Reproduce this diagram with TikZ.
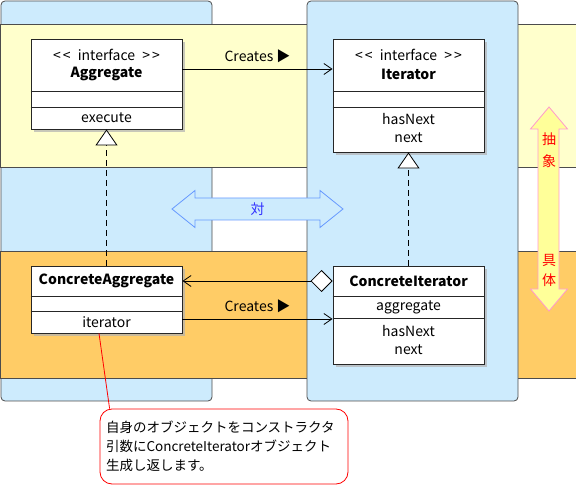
\documentclass[tikz,border=0pt]{standalone}
\usepackage{fontspec}
\setmainfont{Noto Sans CJK JP}
\usepackage{tikz}
\usetikzlibrary{arrows.meta,calc,shadows,positioning}

\definecolor{colblue}{RGB}{205,235,253}
\definecolor{bandyellow}{RGB}{255,255,204}
\definecolor{bandorange}{RGB}{255,204,102}
\definecolor{pairblue}{RGB}{102,153,255}
\definecolor{pairtext}{RGB}{51,51,255}
\definecolor{levelfill}{RGB}{255,255,153}
\definecolor{levelpink}{RGB}{255,153,204}

\newcommand{\stereo}{<\kern2pt<\hspace{4pt} interface \hspace{4pt}>\kern2pt>}

\tikzset{
    umlbox/.style={draw=black!85, fill=white, line width=0.9pt, minimum width=151pt, inner sep=0pt,
        drop shadow={shadow xshift=3pt, shadow yshift=-3pt, fill=black!30, opacity=0.7}},
    umltext/.style={font=\fontsize{14}{16}\selectfont, inner sep=0pt},
    umlname/.style={umltext, font=\fontsize{14}{16}\selectfont\bfseries},
    opentip/.style={-{Straight Barb[length=8pt,width=11pt]}},
    realize/.style={dash pattern=on 6pt off 4pt, line width=0.8pt, -{Triangle[open,fill=white,length=16pt,width=22pt]}},
}

\begin{document}
\begin{tikzpicture}[x=1pt,y=-1pt]

\useasboundingbox (0,0) rectangle (576,486);

\filldraw[fill=colblue, draw=black!70, line width=0.8pt, rounded corners=4pt] (1,1) rectangle (212,401);
\filldraw[fill=bandyellow, draw=black!70, line width=0.8pt] (0,24) rectangle (576,167);
\filldraw[fill=bandorange, draw=black!70, line width=0.8pt] (0,251) rectangle (576,378);
\filldraw[fill=colblue, draw=black!70, line width=0.8pt, rounded corners=4pt] (307,1) rectangle (518,401);

\node[umlbox, minimum height=90pt] (agg) at (106.5,84) {};
\node[umlbox, minimum height=113pt] (itr) at (408.5,95.5) {};
\node[umlbox, minimum height=67pt] (cagg) at (106.5,299.5) {};
\node[umlbox, minimum height=98pt] (citr) at (408.5,315) {};

\foreach \b/\y in {agg/91, agg/107, itr/91, itr/107, cagg/296, cagg/311, citr/296, citr/318}
{
    \draw[black!85, line width=0.9pt] (\b.west |- 0,\y) -- (\b.east |- 0,\y);
}

\node[umltext] (aggst) at (106.5,55) {\stereo};
\node[umlname] (aggname) at (106.5,74) {Aggregate};
\node[umltext] (aggop) at (106.5,118) {execute};

\node[umltext] (itrst) at (408.5,55) {\stereo};
\node[umlname] (itrname) at (408.5,74) {Iterator};
\node[umltext] (itrop1) at (408.5,119) {hasNext};
\node[umltext] (itrop2) at (408.5,138) {next};

\node[umlname] (caggname) at (106.5,281) {ConcreteAggregate};
\node[umltext] (caggop) at (106.5,322) {iterator};

\node[umlname] (citrname) at (408.5,281) {ConcreteIterator};
\node[umltext] (citrattr) at (408.5,307) {aggregate};
\node[umltext] (citrop1) at (408.5,331) {hasNext};
\node[umltext] (citrop2) at (408.5,350) {next};

\draw[opentip, line width=0.8pt] (agg.east |- 0,69) -- (itr.west |- 0,69)
    node[umltext, midway, above=6pt] (creates1) {Creates ▶};
\draw[opentip, line width=0.8pt] (cagg.east |- 0,319) -- (citr.west |- 0,319)
    node[umltext, midway, above=6pt] (creates2) {Creates ▶};
\draw[line width=0.8pt, {Straight Barb[length=8pt,width=11pt]}-{Diamond[open,fill=white,length=22pt,width=22pt]}]
    (cagg.east |- 0,281) -- (citr.west |- 0,281);

\draw[realize] (cagg.north) -- (agg.south);
\draw[realize] (citr.north) -- (itr.south);

\filldraw[fill=colblue, draw=pairblue, line width=0.8pt]
    (172,209) -- (195,190.5) -- (195,198) -- (320,198) -- (320,190.5) -- (343,209)
    -- (320,227.5) -- (320,220) -- (195,220) -- (195,227.5) -- cycle;
\node[umltext, text=pairtext] (pair) at (257.5,209) {対};

\filldraw[fill=levelfill, draw=levelpink, line width=0.8pt]
    (549,107) -- (567.5,129) -- (559,129) -- (559,289) -- (567.5,289) -- (549,311)
    -- (530.5,289) -- (538,289) -- (538,129) -- (530.5,129) -- cycle;
\node[umltext, text=red, align=center, font=\fontsize{14}{22}\selectfont] (abstract) at (549,150) {抽\\象};
\node[umltext, text=red, align=center, font=\fontsize{14}{20}\selectfont] (concrete) at (549,270.5) {具\\体};

\node[draw=red, fill=white, line width=0.8pt, rounded corners=12pt, minimum width=248pt, minimum height=75pt,
    text width=236pt, align=left, inner sep=6pt, font=\fontsize{13.5}{19}\selectfont] (note) at (224,446.5)
    {自身のオブジェクトをコンストラクタ\\引数にConcreteIteratorオブジェクト\\生成し返します。};
\draw[red, line width=0.8pt] ([xshift=-7.5pt]cagg.south) -- ([xshift=10pt]note.north west);

\end{tikzpicture}
\end{document}
